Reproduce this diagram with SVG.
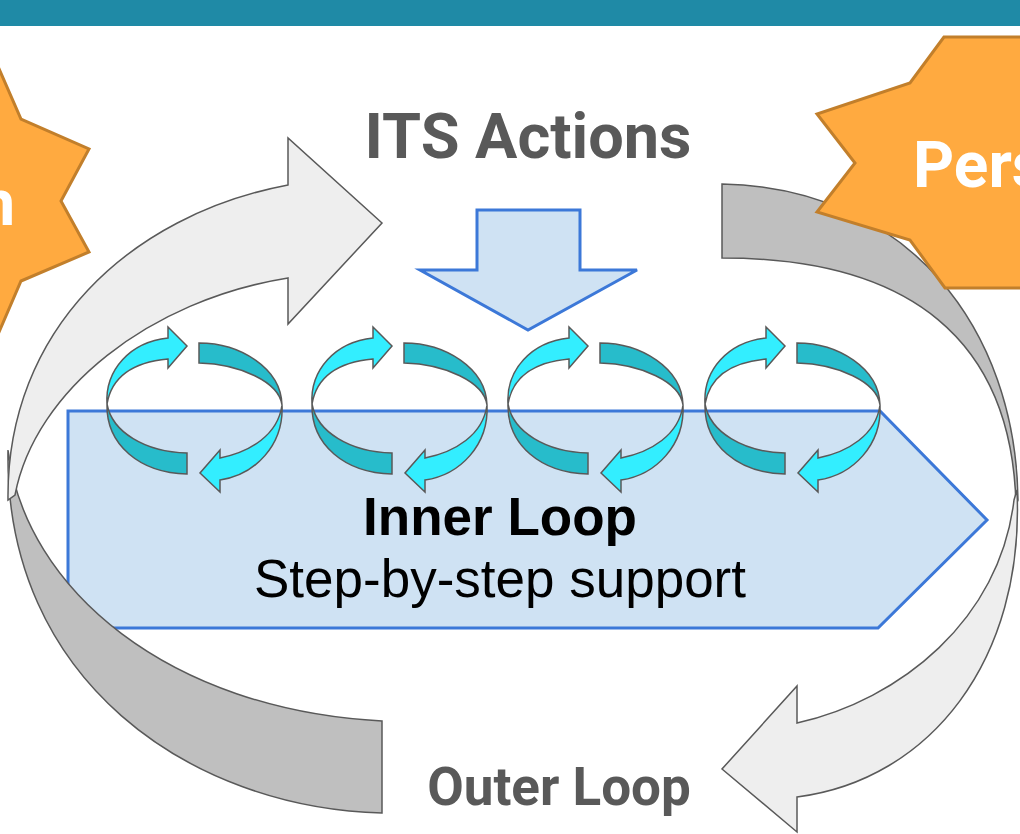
<svg xmlns="http://www.w3.org/2000/svg" xmlns:xlink="http://www.w3.org/1999/xlink" width="1020" height="834" viewBox="0 0 1020 834">
  <style>
    .star { fill: #FFAA40; stroke: #C27F2B; stroke-width: 3; stroke-linejoin: miter; }
    .star-text { font-family: Roboto, "Liberation Sans", sans-serif; font-weight: 700; fill: #FFFFFF; font-size: 64px; }
    .band-dark { fill: #BFBFBF; stroke: #595959; stroke-width: 1.5; stroke-linejoin: miter; }
    .band-light { fill: #EEEEEE; stroke: #595959; stroke-width: 1.5; stroke-linejoin: miter; }
    .blue { fill: #CFE2F3; stroke: #3C78D8; stroke-width: 3; }
    .title { font-family: Roboto, "Liberation Sans", sans-serif; font-weight: 700; fill: #595959; }
    .inner-title { font-family: "Liberation Sans", Arial, sans-serif; font-size: 53px; fill: #000000; }
    .ring-light { fill: #33EEFF; stroke: #595959; stroke-width: 1.5; stroke-linejoin: miter; }
    .ring-dark { fill: #27BCCB; stroke: #595959; stroke-width: 1.5; stroke-linejoin: miter; }
  </style>
  <defs>
    <!-- one twisted cycle ribbon: two arrow halves and two band halves -->
    <g id="cycle">
      <path class="ring-dark" d="M 199 343 C 240 343, 281 368, 282 405 C 279 382, 240 364, 199 363 Z"/>
      <path class="ring-dark" d="M 107 404 C 112 432, 145 452, 187 453 L 187 474 C 140 473, 106 445, 107 404 Z"/>
      <path class="ring-light" d="M 107 404 C 105 370, 130 342, 168 338 L 168 327 L 187 346 L 168 368 L 168 359 C 135 362, 112 375, 107 404 Z"/>
      <path class="ring-light" d="M 282 405 C 284 445, 255 475, 220 480 L 220 492 L 200 473 L 220 450 L 220 458 C 250 452, 278 435, 282 405 Z"/>
    </g>
  </defs>

  <rect width="1020" height="834" fill="#FFFFFF"/>

  <!-- header bar -->
  <rect x="0" y="0" width="1020" height="26" fill="#1F8AA6"/>

  <!-- inner loop body -->
  <g id="inner-loop">
    <polygon class="blue" points="68,411 880,411 987,520 878,628 68,628"/>
    <text class="inner-title" x="500" y="535" text-anchor="middle" font-weight="700">Inner Loop</text>
    <text class="inner-title" x="500" y="597" text-anchor="middle">Step-by-step support</text>
  </g>

  <!-- outer loop ribbon -->
  <g id="connectors">
    <path class="band-dark" d="M 8 450 C 4 680, 190 808, 382 813 L 382 721 C 170 710, 25 590, 8 450 Z"/>
    <path class="band-light" d="M 8 500 C 6 330, 130 215, 288 185 L 288 138 L 382 223 L 288 324 L 288 278 C 150 300, 35 390, 15 495 Z"/>
    <path class="band-dark" d="M 722 184 C 910 188, 1016 330, 1018 500 L 1016 505 C 1012 340, 910 258, 722 258 Z"/>
    <path class="band-light" d="M 1017 490 C 1025 660, 930 780, 797 797 L 797 832 L 722 769 L 797 686 L 797 723 C 900 700, 1000 620, 1014 500 Z"/>
  </g>

  <!-- ITS actions -->
  <g id="its-actions">
    <text class="title" x="528" y="158" text-anchor="middle" font-size="63">ITS Actions</text>
    <polygon class="blue" points="477,210 580,210 580,270 637,270 528,330 420,270 477,270"/>
  </g>

  <!-- step cycles -->
  <g id="cycle-1"><use xlink:href="#cycle"/></g>
  <g id="cycle-2"><use xlink:href="#cycle" transform="translate(205,0)"/></g>
  <g id="cycle-3"><use xlink:href="#cycle" transform="translate(401,0)"/></g>
  <g id="cycle-4"><use xlink:href="#cycle" transform="translate(598,0)"/></g>

  <!-- outer loop label -->
  <g id="outer-loop">
    <text class="title" x="559" y="805" text-anchor="middle" font-size="53">Outer Loop</text>
  </g>

  <!-- side badges -->
  <g id="badge-left">
    <polygon class="star" points="-10,48 21,119 89,149 61,201 89,252 21,281 -10,353 -60,353 -60,48"/>
    <text class="star-text" x="15" y="225" text-anchor="end">n</text>
  </g>
  <g id="badge-right">
    <polygon class="star" points="944,37 910,83 817,114 855,163 817,212 910,240 945,288 1060,288 1060,37"/>
    <text class="star-text" x="913" y="187">Pers</text>
  </g>
</svg>
